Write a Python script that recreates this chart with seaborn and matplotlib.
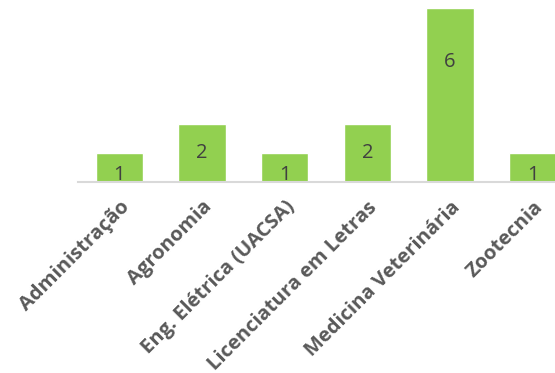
import pandas as pd
import seaborn as sns
import matplotlib.pyplot as plt

# dados do gráfico
cursos = ['Administração', 'Agronomia', 'Eng. Elétrica (UACSA)',
          'Licenciatura em Letras', 'Medicina Veterinária', 'Zootecnia']
quantidade = [1, 2, 1, 2, 6, 1]

df = pd.DataFrame({'curso': cursos, 'qtd': quantidade})

sns.set_theme(style='white')
plt.rcParams['font.family'] = ['Open Sans', 'DejaVu Sans']

fig = plt.figure(figsize=(5.55, 3.73), dpi=100)
# eixo se estende além da borda direita, como no original recortado
ax = fig.add_axes([78 / 555, 1 - 182 / 373, 496 / 555, 174 / 373])

sns.barplot(data=df, x='curso', y='qtd', color='#92D050', width=0.57,
            saturation=1, ax=ax)

ax.set_ylim(0, 6)
ax.set_xlim(-0.5, 5.5)
ax.set_xlabel('')
ax.set_ylabel('')
ax.set_yticks([])
for s in ['top', 'right', 'left']:
    ax.spines[s].set_visible(False)
ax.spines['bottom'].set_color('#D9D9D9')
ax.spines['bottom'].set_linewidth(1.5)

ax.tick_params(axis='x', length=0, pad=11)
ax.set_xticks(range(len(cursos)))
ax.set_xticklabels(cursos, rotation=45, ha='right', rotation_mode='anchor',
                   fontsize=14.5, fontweight='bold', color='#595959')

# rótulos de valor dentro das barras
for i, v in enumerate(quantidade):
    if v >= 6:
        y = v - 1.85
    elif v >= 2:
        y = v - 1.0
    else:
        y = v - 0.77
    ax.text(i, y, str(v), ha='center', va='center', fontsize=14.5,
            color='#404040')

fig.savefig('out.png', dpi=100)
